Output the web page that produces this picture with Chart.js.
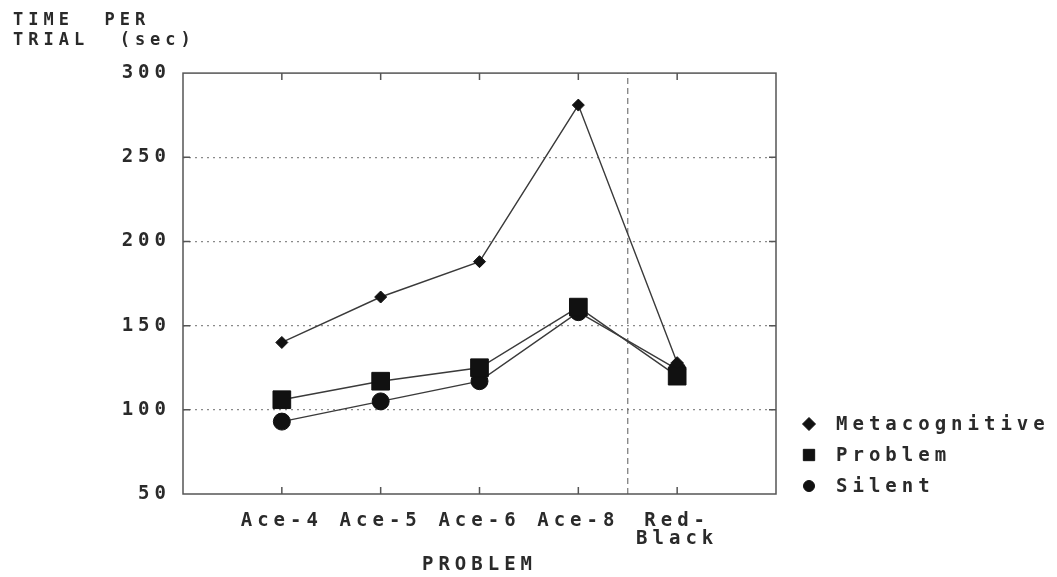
<!DOCTYPE html>
<html>
<head>
<meta charset="utf-8">
<script src="https://cdn.jsdelivr.net/npm/chart.js@4.4.1/dist/chart.umd.min.js"></script>
<style>
  html, body { margin: 0; background: #fff; }
</style>
</head>
<body>
<canvas id="chart" width="1057" height="577"></canvas>
<script>
// ── Data ──
const problems      = ['Ace-4', 'Ace-5', 'Ace-6', 'Ace-8', ['Red-', 'Black']];
const metacognitive = [140, 167, 188, 281, 128];
const problemTalk   = [106, 117, 125, 161, 120];
const silent        = [93, 105, 117, 158, 124];
const yMin = 50, yMax = 300, yStep = 50;
const separatorX = 3.5;   // dashed divider between Ace-8 and Red-Black

const INK   = '#2a2a2a';
const LINE  = '#3a3a3a';
const FONT  = 'DejaVu Sans Mono';
const SPACE = '5px';

const toPoints = arr => arr.map((v, i) => ({ x: i, y: v }));

// canvas letter spacing (reset whenever the canvas is resized)
const spacing = {
  id: 'spacing',
  beforeInit(c)   { c.ctx.letterSpacing = SPACE; },
  beforeUpdate(c) { c.ctx.letterSpacing = SPACE; },
  beforeLayout(c) { c.ctx.letterSpacing = SPACE; },
  beforeDraw(c)   { c.ctx.letterSpacing = SPACE; },
};

// frame + inward tick marks on all four sides
const frame = {
  id: 'frame',
  afterDatasetsDraw(c) {
    const { ctx, chartArea: a, scales: { x, y } } = c;
    ctx.save();
    ctx.strokeStyle = '#555';
    ctx.lineWidth = 1.5;
    ctx.setLineDash([]);
    ctx.strokeRect(a.left, a.top, a.right - a.left, a.bottom - a.top);
    ctx.beginPath();
    problems.forEach((_, i) => {
      const px = x.getPixelForValue(i);
      ctx.moveTo(px, a.bottom); ctx.lineTo(px, a.bottom - 7);
      ctx.moveTo(px, a.top);    ctx.lineTo(px, a.top + 7);
    });
    for (let v = yMin + yStep; v < yMax; v += yStep) {
      const py = y.getPixelForValue(v);
      ctx.moveTo(a.left, py);  ctx.lineTo(a.left + 7, py);
      ctx.moveTo(a.right, py); ctx.lineTo(a.right - 7, py);
    }
    ctx.stroke();
    ctx.restore();
  },
};

// legend to the right of the frame, bottom-aligned with the plot
const sideLegend = {
  id: 'sideLegend',
  afterDraw(c) {
    const { ctx, chartArea: a } = c;
    const sets = c.data.datasets.filter(d => d.legendRadius);
    ctx.save();
    ctx.letterSpacing = SPACE;
    ctx.font = `bold 19px "${FONT}"`;
    ctx.textAlign = 'left';
    ctx.textBaseline = 'middle';
    sets.forEach((d, i) => {
      const cy = a.bottom - 8 - (sets.length - 1 - i) * 31;
      ctx.fillStyle = '#111';
      ctx.strokeStyle = '#111';
      Chart.helpers.drawPoint(ctx, { pointStyle: d.pointStyle, radius: d.legendRadius, borderWidth: 1 },
        a.right + 33, cy);
      ctx.fillStyle = INK;
      ctx.fillText(d.label, a.right + 60, cy + 1);
    });
    ctx.restore();
  },
};

const series = (label, data, style, radius, legendRadius) => ({
  label, data: toPoints(data), legendRadius,
  borderColor: LINE, borderWidth: 1.4,
  pointStyle: style, pointRadius: radius, pointHoverRadius: radius,
  pointBackgroundColor: '#111', pointBorderColor: '#111', pointBorderWidth: 1,
  tension: 0,
});

new Chart(document.getElementById('chart'), {
  type: 'line',
  data: {
    datasets: [
      series('Metacognitive', metacognitive, 'rectRot', 6,    6.5),
      series('Problem',       problemTalk,   'rect',    12.5, 8),
      series('Silent',        silent,        'circle',  8.5,  5.5),
      {
        label: 'divider',
        data: [{ x: separatorX, y: yMin }, { x: separatorX, y: yMax }],
        borderColor: '#777', borderWidth: 1.2, borderDash: [6, 4],
        pointRadius: 0, order: 10,
      },
    ],
  },
  options: {
    responsive: false,
    animation: false,
    layout: { padding: { left: 13, right: 281, top: 6, bottom: 0 } },
    plugins: {
      tooltip: { enabled: false },
      legend: { display: false },
      title: {
        display: true, align: 'start', color: INK,
        text: ['TIME  PER', 'TRIAL  (sec)'],
        font: { family: FONT, size: 17, weight: 'bold', lineHeight: 1.15 },
        padding: { top: 5, bottom: 23 },
      },
    },
    scales: {
      x: {
        type: 'linear', min: -1, max: problems.length,
        afterBuildTicks: s => { s.ticks = problems.map((_, i) => ({ value: i })); },
        afterFit: s => { s.height = 83; },
        ticks: {
          color: INK, padding: 10, maxRotation: 0, autoSkip: false,
          font: { family: FONT, size: 19, weight: 'bold', lineHeight: 0.95 },
          callback: v => problems[v],
        },
        grid: { display: false },
        border: { display: false },
        title: {
          display: true, text: 'PROBLEM', color: INK,
          font: { family: FONT, size: 19, weight: 'bold', lineHeight: 1.2 },
          padding: { top: 4, bottom: 1 },
        },
      },
      y: {
        min: yMin, max: yMax,
        afterFit: s => { s.width = 170; },
        ticks: {
          stepSize: yStep, color: INK, padding: 12,
          font: { family: FONT, size: 19, weight: 'bold' },
        },
        grid: {
          drawTicks: false,
          color: c => (c.tick.value === yMin || c.tick.value === yMax) ? 'rgba(0,0,0,0)' : '#8a8a8a',
          lineWidth: 1.2,
        },
        border: { display: false, dash: [2, 4] },
      },
    },
  },
  plugins: [spacing, frame, sideLegend],
});
</script>
</body>
</html>
